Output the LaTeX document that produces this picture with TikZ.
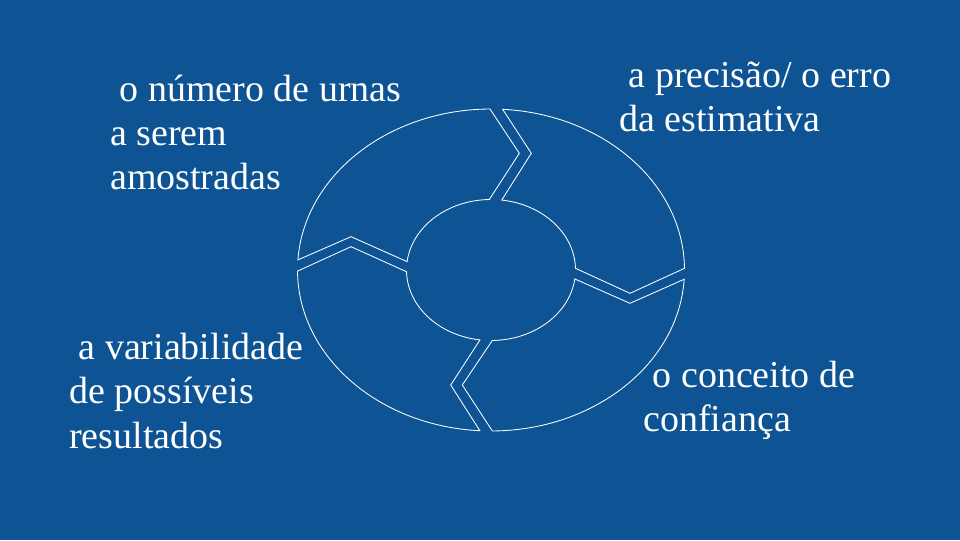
\documentclass[tikz,border=0pt]{standalone}
\usepackage{fontspec}
\setmainfont{Liberation Serif}
\definecolor{slideblue}{RGB}{14,84,148}
\tikzset{
    seg/.style={draw=white, line width=0.6pt, line join=miter},
    txt/.style={text=white, align=left, anchor=base west, inner sep=0pt,
        font=\fontsize{27}{31.6}\selectfont}
}
\begin{document}
\begin{tikzpicture}[x=0.025cm, y=0.025cm]
    \useasboundingbox (0,0) rectangle (960,540);
    \fill[slideblue] (0,0) rectangle (960,540);
    % ring, four pieces
    \draw[seg] ([shift={(491,270)}]86.53:193.5 and 161)
        arc[start angle=86.53, end angle=0.6, x radius=193.5, y radius=161]
        -- (630,246.7) -- ([shift={(491,270)}]1.4:84.5 and 70.5)
        arc[start angle=1.4, end angle=82.7, x radius=84.5, y radius=70.5]
        -- (531.3,386.7) -- cycle;
    \draw[seg] ([shift={(491,270)}]-3.3:193.5 and 161)
        arc[start angle=-3.3, end angle=-89.6, x radius=193.5, y radius=161]
        -- (462.3,155) -- ([shift={(491,270)}]-89.1:84.5 and 70.5)
        arc[start angle=-89.1, end angle=-7.3, x radius=84.5, y radius=70.5]
        -- (630,236.7) -- cycle;
    \draw[seg] ([shift={(491,270)}]266.7:193.5 and 161)
        arc[start angle=266.7, end angle=180.4, x radius=193.5, y radius=161]
        -- (351,293.3) -- ([shift={(491,270)}]181.4:84.5 and 70.5)
        arc[start angle=181.4, end angle=262.5, x radius=84.5, y radius=70.5]
        -- (450.7,155) -- cycle;
    \draw[seg] ([shift={(491,270)}]176.4:193.5 and 161)
        arc[start angle=176.4, end angle=90.3, x radius=193.5, y radius=161]
        -- (519.3,386.7) -- ([shift={(491,270)}]91.15:84.5 and 70.5)
        arc[start angle=91.15, end angle=173.2, x radius=84.5, y radius=70.5]
        -- (351,303.3) -- cycle;
    % labels (base = last line)
    \node[txt] (urnas) at (110,350) {\ o número de urnas\\a serem\\amostradas};
    \node[txt] (erro) at (619,408.3) {\ a precisão/ o erro\\da estimativa};
    \node[txt] (variab) at (69,91.7) {\ a variabilidade\\de possíveis\\resultados};
    \node[txt] (confianca) at (643,108.3) {\ o conceito de\\confiança};
\end{tikzpicture}
\end{document}
